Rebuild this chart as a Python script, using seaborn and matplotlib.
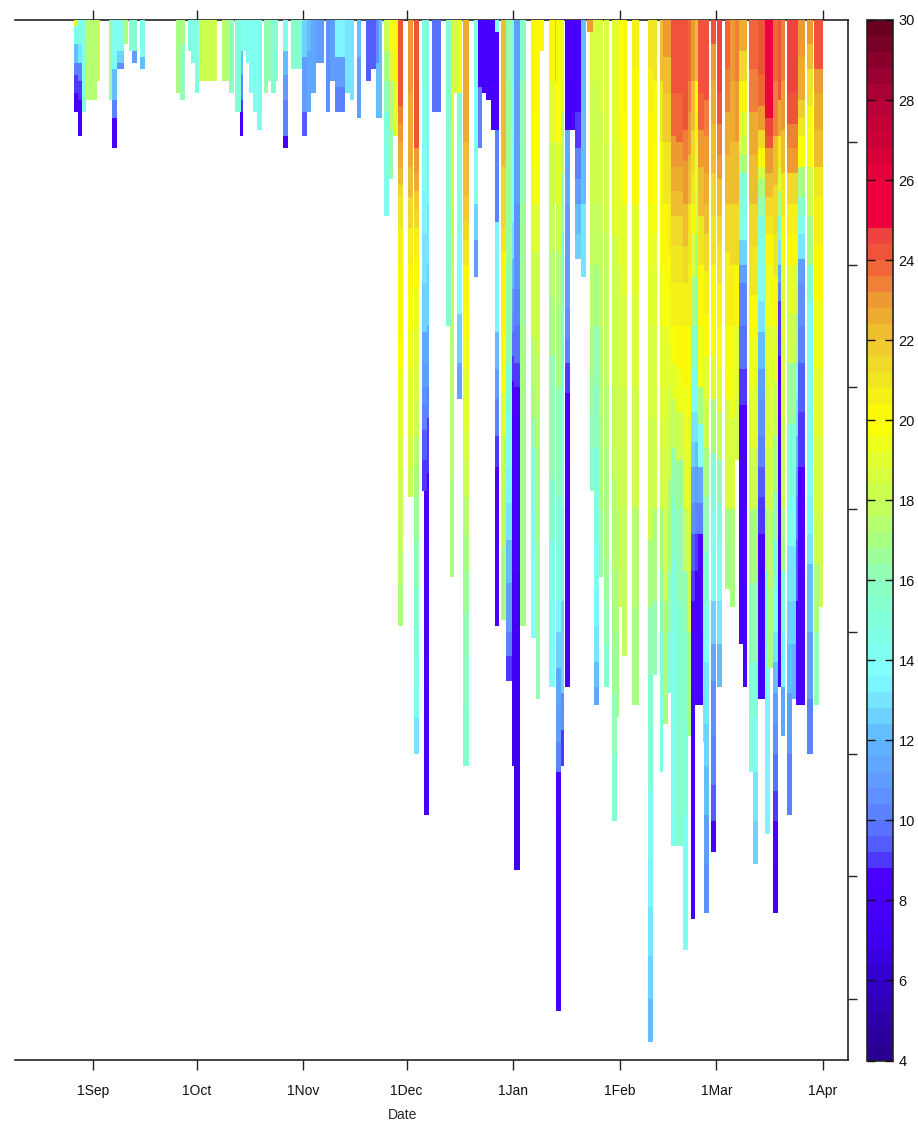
import numpy as np
import pandas as pd
import matplotlib
matplotlib.use('Agg')
import matplotlib.pyplot as plt
from matplotlib.colors import LinearSegmentedColormap
import seaborn as sns

# days counted from 1 Sep
tick_days = [0, 30, 61, 91, 122, 153, 181, 212]
tick_names = ['1Sep', '1Oct', '1Nov', '1Dec', '1Jan', '1Feb', '1Mar', '1Apr']
depth_ticks = [200, 400, 600, 800, 1000, 1200, 1400, 1600]
cbar_ticks = [4, 6, 8, 10, 12, 14, 16, 18, 20, 22, 24, 26, 28, 30]

cmap_values = [4, 6, 7, 8.6, 9, 10, 11, 12, 13, 13.6, 15, 16, 17, 18, 19, 20, 21, 22,
               23, 23.6, 24, 24.8, 24.8, 26, 27, 28, 29, 30]
cmap_colors = ['#2a0090', '#3300d0', '#4000f5', '#4a00ff', '#5050ff', '#5c80ff', '#60a0ff',
               '#60b8ff', '#78e8ff', '#80ffff', '#80ffd8', '#90ffc0', '#a8ff80', '#c8ff58',
               '#e0ff30', '#ffff00', '#f0e820', '#f0c830', '#eca030', '#ee7a38', '#f06038',
               '#ee4040', '#ee003c', '#ee003c', '#d00038', '#b80038', '#900030', '#6a0020']

# one entry per profile: first and last day, bottom of each layer (m), temperature of each layer
profile_start = [
    -5.8, -4.4, -3.2, -2.0, 0.9, 4.4, 5.5, 6.7, 9.0, 10.5, 11.3, 13.4, 24.1, 25.3, 27.6, 28.5, 29.6,
    30.8, 37.5, 39.5, 42.4, 41.2, 43.6, 44.4, 45.3, 46.5, 47.6, 49.4, 50.8, 51.7, 53.1, 55.2, 57.5,
    60.4, 61.9, 63.3, 64.8, 67.4, 68.8, 70.3, 73.2, 74.6, 76.4, 79.3, 80.7, 82.2, 81.9, 84.5, 86.0,
    87.1, 88.6, 91.5, 93.2, 96.1, 95.5, 98.4, 103.4, 102.5, 105.7, 104.8, 107.5, 110.4, 111.8, 113.0,
    114.1, 115.6, 116.7, 118.5, 119.9, 121.4, 122.2, 124.0, 127.2, 128.4, 129.8, 132.4, 133.9, 134.5,
    135.9, 137.1, 138.5, 140.0, 141.7, 144.3, 143.5, 145.5, 146.9, 148.4, 150.7, 152.2, 152.7, 153.6,
    156.5, 161.2, 162.6, 164.4, 165.5, 167.0, 167.8, 169.3, 171.3, 172.8, 173.7, 174.8, 175.7, 176.9,
    177.4, 179.5, 181.2, 183.5, 185.0, 186.4, 187.6, 188.8, 190.5, 191.7, 193.1, 195.3, 194.9, 196.0,
    197.5, 198.9, 199.8, 201.5, 203.0, 203.9, 204.7, 207.3, 209.4, 210.8,
]
profile_end = [
    -4.4, -3.2, -2.0, 0.9, 2.0, 5.5, 6.7, 9.0, 9.9, 11.3, 12.8, 15.1, 25.3, 26.7, 28.5, 29.6, 30.8,
    36.0, 39.5, 40.9, 43.6, 43.0, 44.4, 45.3, 46.5, 47.6, 49.1, 50.8, 51.7, 53.1, 53.7, 56.6, 60.4,
    61.9, 63.3, 64.8, 67.1, 68.8, 70.3, 73.2, 74.6, 75.8, 77.8, 80.7, 81.9, 83.9, 83.1, 86.0, 87.1,
    88.6, 90.0, 92.9, 94.7, 97.6, 97.0, 101.1, 104.8, 104.0, 107.2, 106.0, 108.9, 111.8, 113.0, 114.1,
    115.6, 116.7, 117.9, 119.9, 121.4, 122.2, 124.0, 125.7, 128.4, 129.8, 131.0, 133.9, 134.8, 135.9,
    136.8, 138.5, 140.0, 141.7, 142.9, 145.5, 145.2, 146.9, 148.1, 149.8, 152.2, 152.7, 153.9, 155.1,
    158.6, 162.6, 163.8, 165.5, 167.0, 167.8, 169.3, 171.3, 172.8, 173.7, 174.8, 175.7, 176.9, 178.0,
    178.9, 180.9, 182.7, 185.0, 186.4, 187.6, 188.8, 189.9, 191.7, 193.1, 194.9, 196.6, 196.0, 197.8,
    198.9, 199.8, 201.0, 203.0, 203.9, 204.7, 206.8, 209.1, 210.8, 212.0,
]
profile_depths = [
    [10, 40, 70, 90, 120, 150], [40, 70, 100, 130, 190], [150], [130], [100], [130], [80, 130, 160, 210],
    [50, 70, 80], [40], [50], [50, 70], [60, 80], [120], [40, 130], [50], [70], [120], [100], [100], [120],
    [50, 90, 130, 150, 190], [150], [50], [70], [120], [150], [180], [120], [100], [120], [100],
    [50, 90, 130, 190, 210], [80], [60, 150, 190], [50, 150], [120], [70], [150], [100], [60, 110, 150],
    [120], [130], [60, 160], [100], [80], [160], [70],
    [50, 100, 150, 200, 260, 320], [50, 100, 180, 260], [100, 190],
    [60, 140, 170, 200, 240, 270, 290, 340, 400, 460, 520, 570, 620, 675, 750, 820, 870, 915, 990],
    [120, 240, 290, 340, 400, 450, 510, 570, 620, 680, 730, 780],
    [210, 250, 280, 310, 340, 390, 440, 500, 560, 620, 680, 730, 780, 850, 930, 990, 1040, 1090, 1140, 1200],
    [300, 400, 500, 560, 600, 650, 700, 740, 780, 850, 1000, 1300],
    [100, 200, 280, 350, 430, 470, 510, 560, 600, 630, 670, 720, 770],
    [150], [170, 300, 400, 500, 600, 750, 910], [500],
    [120, 200, 350, 480, 560, 620], [120],
    [200, 290, 330, 360, 400, 440, 470, 520, 570, 620, 670, 720, 780, 840, 900, 970, 1040, 1120, 1220],
    [300, 360, 420], [110, 210], [120], [130], [180],
    [20, 180, 330, 510, 570, 620, 680, 730, 810, 990],
    [150, 240, 290, 340, 380, 450, 520, 610, 680, 760, 860, 980],
    [100, 300, 400, 500, 560, 640, 730, 790, 850, 920, 1000, 1040, 1075],
    [100, 200, 330, 390, 440, 480, 510, 550, 590, 620, 650, 720, 900, 1050, 1220],
    [200, 300, 440, 500, 560, 600, 650, 700, 900, 1100, 1390],
    [100, 300, 500, 700, 990],
    [80, 150, 230, 300, 380, 450, 520, 600, 650, 700, 750, 800, 880, 1010],
    [150, 300, 380, 460, 550, 620, 700, 850, 1000, 1110],
    [50],
    [100, 200, 300, 380, 450, 550, 650, 750, 850, 950, 1020, 1090],
    [100, 305],
    [100, 200, 300, 380, 470, 600, 780, 860, 950, 1000, 1060, 1120, 1180, 1230, 1300, 1620],
    [150, 250, 350, 470, 600, 800, 950, 1100, 1160, 1220],
    [180, 300, 400, 470, 520, 560, 610, 660, 720, 900, 1090],
    [180], [150, 210, 260, 300, 350, 390], [300, 420],
    [100, 200, 300, 400, 500, 580, 640, 700, 770], [20],
    [100, 200, 300, 400, 500, 600, 700, 770, 850, 930, 990, 1050, 1090, 1120],
    [150, 300, 400, 500, 650, 800, 910],
    [200, 350, 500, 600, 700, 800, 880, 950, 1020, 1090],
    [200, 350, 500, 600, 750, 900, 1000, 1100, 1200, 1310],
    [200, 400, 600, 800, 1000, 1140], [200, 400, 600, 800, 960], [150, 300, 450, 600, 800, 1040],
    [80, 200, 300, 450, 600, 800, 960, 1120],
    [80, 150, 230, 300, 400, 500, 650, 850, 960, 1070, 1160, 1260, 1370, 1450, 1530, 1600, 1670],
    [100, 200, 350, 500, 650, 800, 950, 1070],
    [100, 200, 300, 400, 500, 600, 700, 800, 900, 1000, 1100, 1230],
    [60, 120, 200, 300, 400, 500, 650, 800, 950, 1150],
    [60, 120, 200, 300, 380, 450, 530, 600, 750, 900, 1000, 1100],
    [120, 190, 240, 280, 320, 370, 430, 500, 560, 620, 700, 780, 880, 1000, 1180, 1350],
    [120, 200, 240, 280, 320, 370, 430, 500, 570, 640, 720, 800, 950, 1150, 1350],
    [130, 180, 230, 300, 370, 430, 500, 600, 700, 800, 900, 1000, 1150, 1300, 1520],
    [100, 150, 220, 300, 400, 500, 650, 800, 900, 1000, 1170],
    [100, 180, 250, 300, 350, 420, 500, 570, 640, 690, 730, 790, 840, 900, 950, 1100, 1300, 1470],
    [100, 200, 280, 350, 420, 500, 570, 640, 690, 730, 790, 840, 900, 1000, 1120],
    [120, 180, 240, 320, 400, 500, 600, 660, 730, 790, 840, 950, 1120],
    [120, 180, 240, 320, 400, 500, 640, 720, 800, 900, 1000, 1100, 1180],
    [130, 190, 250, 300, 350, 410, 480, 550, 620, 700, 780, 870, 960, 1050, 1150, 1220, 1300, 1380, 1460],
    [40, 100, 170, 250, 320, 400, 480, 550, 620, 710, 800, 880, 950, 1020, 1080, 1170, 1250, 1310, 1360],
    [120, 170, 220, 260, 320, 370, 430, 500, 570, 640, 720, 790, 850, 950, 1020, 1090],
    [80, 150, 220, 300, 380, 500, 620, 800, 930],
    [100, 200, 300, 400, 500, 650, 800, 960],
    [100, 200, 300, 400, 500, 620, 720],
    [50, 100, 150, 190, 220, 250, 290, 330, 360, 400, 430, 500, 570, 630, 690, 850, 1020],
    [50, 100, 150, 190, 220, 250, 290, 330, 360, 400, 430, 500, 570, 630, 690, 850, 1090],
    [80, 150, 220, 300, 370, 450, 520, 600, 700, 800, 920, 1050, 1140, 1230],
    [80, 150, 220, 300, 370, 450, 520, 600, 700, 800, 920, 1050, 1140, 1230, 1310, 1380],
    [90, 140, 185, 210, 240, 265, 290, 320, 350, 400, 460, 510, 570, 620, 680, 730, 780, 840, 890, 1000, 1110],
    [1000, 1100, 1330],
    [160, 190, 210, 250, 290, 320, 350, 400, 500, 600, 700, 800, 900, 1020],
    [160, 190, 210, 250, 290, 320, 350, 400, 500, 600, 700, 800, 930, 1060],
    [100, 190, 270, 350, 420, 500, 590, 680, 770, 850, 930, 1000, 1050, 1100, 1150, 1200, 1260, 1310, 1380, 1460],
    [130, 190, 240, 280, 320, 360, 400, 430, 460, 550, 650, 850, 1090],
    [100, 180, 250, 320, 400, 520, 650, 800, 900, 1000, 1090, 1170],
    [120, 170, 210, 250, 300, 350, 400, 480, 560, 660, 780, 860, 950, 1020, 1100, 1200, 1300],
    [120, 170, 210, 250, 300, 350, 400, 480, 560, 660, 780, 860, 950, 1020, 1110],
    [120, 170, 210, 250, 300, 350, 400, 480, 560, 620, 680, 730, 780, 850, 950, 1120],
    [60, 130, 160, 190, 240, 290, 320, 350, 390, 430, 500, 560, 640, 730, 900, 1120],
    [40, 80, 140, 240, 320, 400, 460, 620, 780, 840, 890, 1000, 1110, 1200],
    [80, 120, 180, 240, 290, 370, 460, 570, 680, 800, 890, 1000, 1120],
    [80, 120, 180, 240, 290, 370, 460, 570, 680, 820, 960],
]
profile_temps = [
    [19, 14, 12, 10, 9, 8.3], [14.5, 13, 10, 9, 8], [14.5], [17.5], [18], [16], [14, 12, 10, 8],
    [14, 12.5, 10.5], [17], [15.5], [15.5, 11], [14, 12], [17], [17, 16], [14.5], [14.5], [14.5], [18], [17.5], [15.8],
    [14, 12, 10, 9, 8], [15], [14], [14], [14], [14], [14], [16], [16], [15.5], [15],
    [14, 12, 11, 10, 8], [15.5], [12.5, 11, 9.5], [12, 11.5], [11.5], [11], [10.5], [11], [13.5, 11, 10],
    [13], [13], [12, 11], [9.5], [9.5], [12], [10.5],
    [18, 17, 16, 15, 14.5, 14], [19.5, 19, 17.5, 16], [20, 19],
    [24.3, 24, 23.5, 23, 22.5, 22, 21.5, 21, 20.5, 20.2, 20, 19.6, 19.3, 19, 18.6, 18.3, 17.8, 17.4, 17],
    [23, 22.5, 22, 21.2, 20.6, 20.1, 19.8, 19.5, 19.2, 19, 18.7, 18.4],
    [24.3, 23.2, 22.5, 21.8, 21.2, 20.5, 20, 19.5, 19.1, 18.6, 18, 17.5, 17, 16.5, 16, 15.5, 15, 14.5, 14, 13.2],
    [13.6, 13, 12.4, 11.6, 11, 10, 9.2, 8.9, 8.6, 8.2, 8, 7.8],
    [15.2, 14.6, 14, 13.6, 13, 12.6, 12.4, 11.6, 11, 10.5, 10, 9.5, 9],
    [9.7], [19, 18.6, 18, 17.8, 17.4, 17.2, 17], [15.5],
    [19.5, 15.5, 14.5, 13.7, 12.5, 11.5], [18],
    [22.7, 22.4, 21.8, 21.3, 20.8, 20.3, 20, 19.7, 19.4, 19.2, 18.9, 18.5, 18, 17.5, 17, 16.5, 16.1, 15.8, 15.5],
    [14, 12.5, 11], [8, 10], [8], [8], [8],
    [14, 8, 10, 13.5, 12, 11, 10, 9, 8.5, 8],
    [22.4, 22, 21.5, 21.2, 20.8, 20.3, 20, 19.6, 19, 18.4, 17.6, 17],
    [16, 16.5, 16.6, 16.4, 16, 15, 14, 13.6, 13, 12, 11, 10, 9],
    [15, 14.6, 14, 13, 12, 11, 10.5, 9.8, 9.2, 8.7, 8.4, 8.2, 8, 7.6, 7.2],
    [11.2, 11, 10.5, 10.2, 9.8, 9, 8.6, 8.3, 8, 7.5, 7],
    [15.5, 16, 16.6, 17, 16.8],
    [20.3, 20, 19.6, 19.3, 18.8, 18.4, 18, 17.5, 16.8, 16, 15.2, 14.5, 14, 13.7],
    [20, 19.6, 19, 18.4, 18, 17.6, 17.4, 17, 16.7, 16.4],
    [20],
    [20, 19, 18.4, 17.8, 17.2, 16.8, 16.4, 16, 15.3, 14.5, 14, 13.7],
    [22, 20],
    [20.2, 19.6, 18.8, 18.2, 17.5, 16.8, 16, 15.2, 14.4, 13.6, 12.6, 11.6, 10.8, 10, 8.5, 7.7],
    [19, 17.5, 16, 15, 14.4, 14, 13.3, 12.5, 10.5, 9],
    [8, 11.6, 11.2, 11, 10.4, 10, 9, 8.3, 8, 7.8, 7.4],
    [8], [8, 9, 10, 11, 12, 12.6], [12, 13],
    [18.6, 18.4, 18.2, 17.8, 17.4, 17, 16.6, 16.2, 15.8], [23],
    [18.6, 18.4, 18, 17.6, 17, 16.4, 15.8, 15.2, 14.6, 14, 13.6, 13, 12.2, 11.6],
    [18.6, 18.2, 17.8, 17.6, 17.2, 17, 16.6],
    [18.6, 18.2, 17.8, 17.6, 17.3, 17, 16.8, 16.5, 16, 15.6],
    [19, 18.8, 18.4, 18.2, 17.8, 17.5, 17, 16.5, 16, 15.5],
    [19, 18.8, 18.4, 18, 17.5, 17], [19.6, 19, 18.6, 18.3, 18], [20.2, 19.6, 19, 18.6, 18, 17.6],
    [20.7, 20.3, 20, 19.2, 18.5, 18, 17.5, 17],
    [21, 20.6, 20.2, 20, 19.5, 19, 18.6, 18, 17, 16, 15.5, 15, 14, 13.6, 13, 12.5, 12],
    [20.8, 20.3, 19.6, 19, 18.5, 18, 17, 16],
    [22, 21, 20.3, 20, 19.4, 19, 18.5, 18, 17, 16, 15, 14.5],
    [23, 22.4, 21.6, 20.8, 20.2, 19.8, 19.2, 18.6, 18, 17],
    [23, 22.4, 21.6, 20.8, 20.4, 20, 19.5, 19, 18, 17, 16, 15],
    [24.3, 23.6, 23, 22.5, 22, 21.5, 21, 20.4, 19.8, 19.2, 17.8, 16.4, 15.4, 14.6, 14.2, 14],
    [24.3, 23.8, 23.2, 22.6, 22, 21.5, 21, 20.4, 20, 19.5, 18, 16.6, 16, 15.6, 15.4],
    [24.3, 24, 23.4, 23, 22.4, 21.4, 20.6, 20, 19.5, 19, 17.6, 16, 15.5, 15, 14],
    [23.7, 23.4, 22.8, 22, 21, 20.5, 19.8, 19, 18.5, 18, 17],
    [23, 22.2, 21.5, 20.8, 20, 18.5, 17, 15.5, 14, 13.2, 12.5, 11.4, 10.5, 9.6, 9, 8.4, 8, 7.8],
    [22, 20, 19, 18, 17, 16, 15, 14, 13, 12, 11, 10, 9, 8.3, 8],
    [24, 23.6, 23, 22, 21, 20.2, 19.5, 17, 14, 11.5, 10, 8.7, 8],
    [24, 23.6, 23, 22, 21, 20.2, 19, 18.2, 17.5, 16, 14.5, 13.6, 13],
    [24, 23.4, 23, 22.6, 22, 21.2, 20.5, 19.8, 19, 18, 17, 16.2, 15.5, 14, 13, 12.5, 12, 11.2, 10.5],
    [24, 23, 22.6, 22, 21.5, 20.8, 20, 19.6, 19, 17, 15, 14.2, 13.7, 12.5, 11.5, 10.6, 10, 9.3, 8.5],
    [24.5, 24, 23.5, 23, 22.2, 21.5, 20.8, 20, 19.6, 19, 17.8, 16, 15, 14, 13, 12],
    [23.7, 23.3, 22.7, 22, 21.3, 20.5, 19.6, 18.5, 17],
    [23, 22.5, 22, 21.2, 20.5, 19.5, 18.5, 17],
    [23.5, 22.8, 22, 21.2, 20, 19, 18],
    [22.5, 21.5, 20, 19, 18, 16.8, 15, 14.4, 14, 12.5, 11, 10.3, 9.7, 9.2, 8.7, 8.2, 8],
    [22.5, 21.5, 20, 19, 18, 16.8, 15, 14.4, 14, 12.5, 11, 10.3, 9.7, 9.2, 8.7, 8.2, 8],
    [23.7, 23.3, 22.7, 22, 21.5, 21, 20.2, 19.5, 18.8, 18, 17, 16, 15.2, 14.5],
    [23.7, 23.3, 22.7, 22, 21.5, 21, 20.2, 19.5, 18.8, 18, 17, 16, 15, 14, 13.2, 12.5],
    [24, 23.6, 23, 21.5, 20, 18.5, 17, 16, 15, 14.4, 14, 13, 12, 11.2, 10.5, 10, 9.5, 9, 8.5, 8.2, 8],
    [15, 14, 13.5],
    [25, 24.6, 24.3, 23, 22, 21.5, 21, 20, 19.5, 19, 18.6, 18, 17, 15.5],
    [25, 24.6, 24.3, 23, 22, 21.5, 21, 20, 19.5, 19, 18.6, 18, 17.5, 17],
    [23.8, 23.3, 22.3, 21.5, 20.8, 20, 19, 18, 17, 16, 15, 14, 13, 12, 11.2, 10.5, 9.7, 9, 8.5, 8],
    [24, 22.5, 21, 19, 17, 15, 13, 11.5, 10, 9, 8.5, 8, 7.8],
    [23.5, 22.8, 22, 21, 20, 19.2, 18.6, 18, 16.8, 15, 13.5, 11.5],
    [24.5, 24, 23.5, 23, 21.5, 20.6, 20, 19, 18, 16.5, 15, 14, 13, 12.6, 12, 11, 10],
    [24.5, 24, 23.5, 23, 21.5, 20.6, 20, 19, 18, 16.5, 15, 14, 13, 12.6, 11.8],
    [24.5, 24, 23.5, 23, 21.5, 20.6, 20, 18.6, 17, 15, 13, 12, 11, 10.2, 9.3, 8.5],
    [23, 22.5, 21.8, 21, 19.6, 17, 15.5, 14, 12.8, 11, 10.4, 10, 9.6, 9.2, 8.5, 8],
    [23, 22, 21, 19.8, 18.2, 17, 15, 14.2, 14, 13.6, 13, 12, 11, 10],
    [24, 23, 22.5, 22, 21, 20.6, 20.2, 19.5, 19, 18.5, 18, 17, 16],
    [24, 23, 22.5, 22, 21, 20.6, 20.2, 19.5, 19, 18.5, 18],
]

day_min = -22.75
day_step = 0.25
n_days = 968
depth_step = 10
n_depths = 170

# fill the date/depth table, later profiles lie over earlier ones
grid = np.full((n_depths, n_days), np.nan)
for start, end, depths, temps in zip(profile_start, profile_end, profile_depths, profile_temps, strict=True):
    c0 = int(round((start - day_min) / day_step))
    c1 = int(round((end - day_min) / day_step))
    top = 0
    for d, t in zip(depths, temps, strict=True):
        bottom = int(round(d / depth_step))
        grid[top:bottom, c0:c1] = t
        top = bottom
df = pd.DataFrame(grid)

sns.set_style('ticks')
plt.rcParams['font.family'] = ['Liberation Sans', 'DejaVu Sans']
plt.rcParams['text.color'] = '#111111'
plt.rcParams['xtick.labelcolor'] = '#111111'
plt.rcParams['ytick.labelcolor'] = '#111111'

W, H = 918, 1125
fig = plt.figure(figsize=(W / 100, H / 100), dpi=100)
ax = fig.add_axes([15 / W, (H - 1060) / H, 833 / W, 1040 / H])
cax = fig.add_axes([866.5 / W, (H - 1060.5) / H, 26.5 / W, 1040.5 / H])

stops = [(v - 4) / 26 for v in cmap_values]
cmap = LinearSegmentedColormap.from_list('temp', list(zip(stops, cmap_colors)), N=65)

sns.heatmap(df, ax=ax, cbar_ax=cax, cmap=cmap, vmin=4, vmax=30, xticklabels=False, yticklabels=False,
            cbar_kws={'ticks': cbar_ticks})

ax.set_xticks([(d - day_min) / day_step for d in tick_days])
ax.set_xticklabels(tick_names, rotation=0, fontsize=10)
ax.set_yticks([d / depth_step for d in depth_ticks])
ax.set_yticklabels([])
ax.tick_params(axis='x', top=True, bottom=True, labelbottom=True, length=7.5, width=1, color='#222222', pad=10)
ax.tick_params(axis='y', left=False, right=True, labelleft=False, length=6.5, width=1, color='#222222')

ax.spines['left'].set_visible(False)
for side in ['top', 'bottom', 'right']:
    ax.spines[side].set_visible(True)
    ax.spines[side].set_linewidth(1.2)
    ax.spines[side].set_color('#222222')
# the bars run over the top line
ax.spines['top'].set_zorder(0.5)

ax.set_xlabel('Date', fontsize=10, x=(403 - 15) / 833, labelpad=7)
ax.set_ylabel('')

cbar = ax.collections[0].colorbar
cax.set_axisbelow(False)
cbar.ax.tick_params(direction='in', left=True, right=True, length=5.5, width=1, color='#111111',
                    labelsize=10.5, pad=4)
cbar.outline.set_visible(True)
cbar.outline.set_edgecolor('#222222')
cbar.outline.set_linewidth(1.2)

fig.savefig('out.png', dpi=100)
